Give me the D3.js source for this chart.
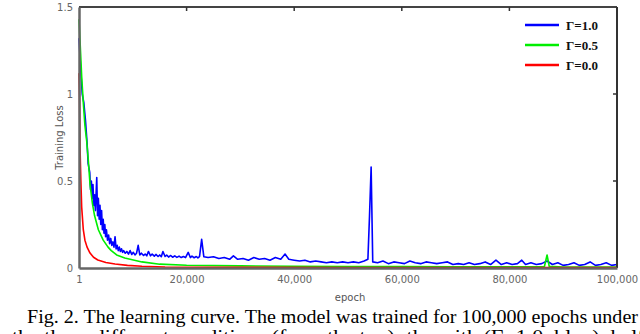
<!DOCTYPE html>
<html>
<head>
<meta charset="utf-8">
<script src="https://cdn.jsdelivr.net/npm/d3@7"></script>
<style>
  body { margin: 0; background: #fff; }
  svg { display: block; }
</style>
</head>
<body>
<div id="chart"></div>
<script>
// values (epoch, training loss)
const xTicks = [1, 20000, 40000, 60000, 80000, 100000];
const xTickLabels = ["1", "20,000", "40,000", "60,000", "80,000", "100,000"];
const yTicks = [0, 0.5, 1, 1.5];
const yTickLabels = ["0", "0.5", "1", "1.5"];

const seriesNames = ["\u0393=1.0", "\u0393=0.5", "\u0393=0.0"];
const seriesColors = ["#0000ff", "#00ee00", "#ff0000"];

const blueEpochs = [1, 300, 600, 900, 1200, 1500, 1700,
  2000, 2150, 2300, 2450, 2600, 2750, 2900, 3050, 3300, 3450, 3600, 3750, 3900, 4050, 4200, 4350, 4500, 4650,
  4800, 4950, 5100, 5300, 5500, 5700, 5900, 6100, 6300, 6500, 6700, 6900, 7100, 7300, 7500, 7700, 7900, 8100,
  8300, 8600, 8900, 9200, 9500, 9800, 10100, 10400, 10700, 11000, 11300, 11600, 12000, 12300, 12600, 12900,
  13300, 13600, 14000, 14300, 14700, 15000, 15300, 15600, 16000, 16300, 16700, 17000, 17400, 17800, 18200,
  18600, 19000, 19400, 19800, 20300, 20700, 21000, 21400, 21800, 22100, 22400, 22800, 23200,
  24000, 25000, 26000, 27000, 28000, 28700, 29500, 30500, 31500, 32500, 33500, 34500, 35500, 36500, 37500, 38300,
  39000, 40000, 41000, 42000, 43000, 44000, 45000, 46000, 47000, 48000, 49000, 50000, 51000, 52000, 53000, 53700,
  54000, 54300, 54600, 55500, 56500, 57500, 58500, 59500, 60500, 61500, 62500, 63500, 64500, 65500, 66500, 67500,
  68500, 69500, 70500, 71500, 72500, 73500, 74500, 75500, 76500, 77500, 78500, 79500, 80500, 81500, 82300, 83000,
  84000, 85000, 86000, 87000, 88000, 89000, 90000, 91000, 92000, 93000, 94000, 95000, 96000, 97000, 98000, 99000, 100000];
const blueLoss = [1.32, 1.15, 1.0, 0.95, 0.85, 0.72, 0.6,
  0.55, 0.45, 0.5, 0.4, 0.48, 0.36, 0.42, 0.33, 0.52, 0.3, 0.4, 0.28, 0.36, 0.25, 0.33, 0.22, 0.28, 0.2,
  0.25, 0.18, 0.22, 0.16, 0.19, 0.14, 0.17, 0.13, 0.15, 0.12, 0.18, 0.11, 0.13, 0.1, 0.12, 0.095, 0.11, 0.09,
  0.1, 0.085, 0.095, 0.08, 0.1, 0.078, 0.09, 0.075, 0.085, 0.13, 0.075, 0.085, 0.072, 0.08, 0.07, 0.095,
  0.07, 0.08, 0.068, 0.078, 0.066, 0.075, 0.065, 0.095, 0.066, 0.074, 0.063, 0.072, 0.062, 0.07, 0.061,
  0.068, 0.06, 0.066, 0.06, 0.09, 0.06, 0.068, 0.059, 0.066, 0.058, 0.065, 0.165, 0.065,
  0.06, 0.065, 0.055, 0.06, 0.05, 0.07, 0.05, 0.055, 0.045, 0.06, 0.05, 0.055, 0.045, 0.06, 0.05, 0.08,
  0.05, 0.045, 0.04, 0.045, 0.035, 0.04, 0.035, 0.03, 0.035, 0.03, 0.035, 0.03, 0.035, 0.03, 0.04, 0.05,
  0.3, 0.58, 0.035, 0.03, 0.04, 0.025, 0.035, 0.03, 0.025, 0.04, 0.03, 0.025, 0.035, 0.03, 0.025, 0.03,
  0.035, 0.02, 0.025, 0.02, 0.03, 0.02, 0.025, 0.035, 0.02, 0.045, 0.02, 0.03, 0.02, 0.025, 0.045, 0.02,
  0.03, 0.02, 0.025, 0.04, 0.02, 0.03, 0.015, 0.02, 0.03, 0.015, 0.02, 0.035, 0.015, 0.02, 0.03, 0.015, 0.02];

const greenEpochs = [1, 200, 500, 800, 1100, 1430, 1730, 2050, 2500, 2900, 3600, 4500, 5400, 6000, 7000, 8500, 11700,
  15000, 20000, 30000, 40000, 50000, 60000, 70000, 80000, 86500, 87000, 87400, 90000, 100000];
const greenLoss = [1.43, 1.3, 1.1, 0.95, 0.82, 0.73, 0.62, 0.48, 0.37, 0.3, 0.22, 0.16, 0.12, 0.1, 0.075, 0.057, 0.035,
  0.022, 0.016, 0.012, 0.01, 0.009, 0.008, 0.007, 0.007, 0.007, 0.075, 0.01, 0.006, 0.006];

const redEpochs = [1, 100, 186, 350, 500, 800, 1100, 1500, 2050, 2700, 3500, 5000, 6700, 9000, 11700, 16000, 25000, 50000, 100000];
const redLoss = [1.12, 0.98, 0.7, 0.5, 0.35, 0.22, 0.16, 0.12, 0.086, 0.062, 0.046, 0.032, 0.023, 0.015, 0.01, 0.006, 0.004, 0.003, 0.003];

const width = 640;
const height = 334;
const margin = { top: 7, right: 23, bottom: 66, left: 79 };
const innerW = width - margin.left - margin.right;
const innerH = height - margin.top - margin.bottom;

const svg = d3.select("#chart")
  .append("svg")
  .attr("width", width)
  .attr("height", height);

const g = svg.append("g")
  .attr("transform", `translate(${margin.left},${margin.top})`);

// scales
const x = d3.scaleLinear().domain([1, 100000]).range([0, innerW]);
const y = d3.scaleLinear().domain([0, 1.5]).range([innerH, 0]);

// series lines (blue under green under red)
const series = [
  d3.zip(blueEpochs, blueLoss),
  d3.zip(greenEpochs, greenLoss),
  d3.zip(redEpochs, redLoss)
];

const line = d3.line()
  .x(d => x(d[0]))
  .y(d => y(d[1]));

g.selectAll(".series")
  .data(series)
  .enter()
  .append("path")
  .attr("class", "series")
  .attr("d", line)
  .style("fill", "none")
  .style("stroke", (d, i) => seriesColors[i])
  .style("stroke-width", 1.6)
  .style("stroke-linejoin", "round");

// frame
g.append("line").attr("x1", 0).attr("x2", innerW).attr("y1", 0).attr("y2", 0)
  .style("stroke", "#444").style("stroke-width", 2);
g.append("line").attr("x1", innerW).attr("x2", innerW).attr("y1", 0).attr("y2", innerH)
  .style("stroke", "#333").style("stroke-width", 2);

// axes
const xAxis = d3.axisBottom(x)
  .tickValues(xTicks)
  .tickFormat((d, i) => xTickLabels[i])
  .tickSize(0)
  .tickPadding(8);

const yAxis = d3.axisLeft(y)
  .tickValues(yTicks)
  .tickFormat((d, i) => yTickLabels[i])
  .tickSize(0)
  .tickPadding(6);

const gx = g.append("g")
  .attr("transform", `translate(0,${innerH})`)
  .call(xAxis);
const gy = g.append("g").call(yAxis);

[gx, gy].forEach(ax => {
  ax.select(".domain").style("stroke", "#666").style("stroke-width", 2.5);
  ax.selectAll("text")
    .style("font-family", "DejaVu Sans, sans-serif")
    .style("font-size", "10px")
    .style("fill", "#666");
});

// mirrored inward ticks on top and right
g.selectAll(".top-tick")
  .data(xTicks.slice(1, -1))
  .enter()
  .append("line")
  .attr("x1", d => x(d)).attr("x2", d => x(d))
  .attr("y1", 0).attr("y2", 4)
  .style("stroke", "#333").style("stroke-width", 1.5);

g.selectAll(".right-tick")
  .data(yTicks.slice(1, -1))
  .enter()
  .append("line")
  .attr("x1", innerW - 4).attr("x2", innerW)
  .attr("y1", d => y(d)).attr("y2", d => y(d))
  .style("stroke", "#333").style("stroke-width", 1.5);

// axis titles
g.append("text")
  .attr("transform", `translate(${-16},${innerH / 2}) rotate(-90)`)
  .style("text-anchor", "middle")
  .style("font-family", "DejaVu Sans, sans-serif")
  .style("font-size", "10px")
  .style("fill", "#555")
  .text("Training Loss");

g.append("text")
  .attr("transform", `translate(${innerW / 2 + 2},${innerH + 33})`)
  .style("text-anchor", "middle")
  .style("font-family", "DejaVu Sans, sans-serif")
  .style("font-size", "10px")
  .style("fill", "#555")
  .text("epoch");

// legend
const legend = g.append("g")
  .attr("transform", `translate(${innerW - 92},18)`);

const item = legend.selectAll(".item")
  .data(seriesNames)
  .enter()
  .append("g")
  .attr("class", "item")
  .attr("transform", (d, i) => `translate(0,${i * 20})`);

item.append("line")
  .attr("x1", 0).attr("x2", 34)
  .style("stroke", (d, i) => seriesColors[i])
  .style("stroke-width", 2.5);

item.append("text")
  .attr("x", 41)
  .attr("y", 4.5)
  .style("font-family", "Liberation Serif, serif")
  .style("font-size", "13px")
  .style("font-weight", "bold")
  .style("fill", "#111")
  .text(d => d);

// caption
svg.append("text")
  .attr("x", 27)
  .attr("y", 323)
  .attr("textLength", 611)
  .attr("lengthAdjust", "spacingAndGlyphs")
  .style("font-family", "Liberation Serif, serif")
  .style("font-size", "19px")
  .style("fill", "#000")
  .text("Fig. 2. The learning curve. The model was trained for 100,000 epochs under");

// second caption line, cut off by the bottom edge as in the source figure
svg.append("text")
  .attr("x", 12)
  .attr("y", 343)
  .attr("textLength", 640)
  .attr("lengthAdjust", "spacingAndGlyphs")
  .style("font-family", "Liberation Serif, serif")
  .style("font-size", "19px")
  .style("fill", "#000")
  .text("the three different conditions (from the top): the with (\u0393=1.0, blue), half-");
</script>
</body>
</html>
